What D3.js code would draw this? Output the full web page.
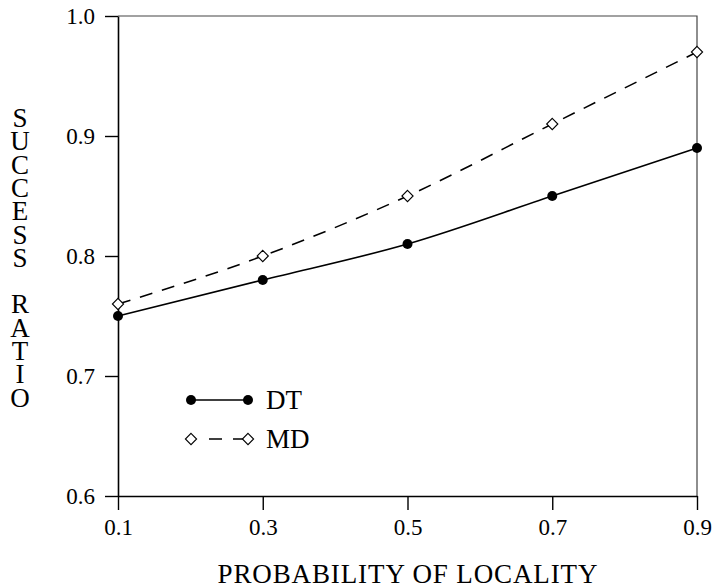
<!DOCTYPE html>
<html>
<head>
<meta charset="utf-8">
<script src="https://cdn.jsdelivr.net/npm/d3@7"></script>
<style>
  body { margin: 0; background: #fff; }
</style>
</head>
<body>
<script>
// values
const locality = [0.1, 0.3, 0.5, 0.7, 0.9];
const dtRatio = [0.75, 0.78, 0.81, 0.85, 0.89];
const mdRatio = [0.76, 0.80, 0.85, 0.91, 0.97];
const xTicks = [0.1, 0.3, 0.5, 0.7, 0.9];
const yTicks = [0.6, 0.7, 0.8, 0.9, 1.0];
const yTitle = ["S", "U", "C", "C", "E", "S", "S", "", "R", "A", "T", "I", "O"];

const width = 716, height = 588;
const margin = { top: 16, right: 19, bottom: 92, left: 118 };
const serif = "'Liberation Serif'";

const svg = d3.select("body").append("svg")
    .attr("width", width)
    .attr("height", height);

const x = d3.scaleLinear().domain([0.1, 0.9]).range([margin.left, width - margin.right]);
const y = d3.scaleLinear().domain([0.6, 1.0]).range([height - margin.bottom, margin.top]);

// top and right frame, thin grey
svg.append("path")
    .attr("d", `M${x(0.1)},${y(1.0)}H${x(0.9)}V${y(0.6)}`)
    .attr("fill", "none")
    .attr("stroke", "#444")
    .attr("stroke-width", 1.2);

const yAxis = svg.append("g")
    .attr("transform", `translate(${margin.left},0)`)
    .call(d3.axisLeft(y).tickValues(yTicks).tickFormat(d3.format(".1f")).tickSize(13).tickPadding(10).tickSizeOuter(0));

const xAxis = svg.append("g")
    .attr("transform", `translate(0,${height - margin.bottom})`)
    .call(d3.axisBottom(x).tickValues(xTicks).tickFormat(d3.format(".1f")).tickSize(14).tickPadding(9).tickSizeOuter(0));

[yAxis, xAxis].forEach(g => {
    g.select(".domain").attr("stroke", "#000").attr("stroke-width", 1.6);
    g.selectAll(".tick line").attr("stroke", "#000").attr("stroke-width", 1.4);
    g.selectAll(".tick text")
        .style("font-family", serif)
        .style("font-size", "23px")
        .attr("fill", "#000");
});

// axis titles
svg.append("text")
    .attr("x", (x(0.1) + x(0.9)) / 2)
    .attr("y", 583)
    .attr("text-anchor", "middle")
    .style("font-family", serif)
    .style("font-size", "27px")
    .attr("textLength", 380)
    .text("PROBABILITY OF LOCALITY");

const yt = svg.append("text")
    .attr("text-anchor", "middle")
    .style("font-family", serif)
    .style("font-size", "27px");
yTitle.forEach((ch, i) => {
    yt.append("tspan")
        .attr("x", 20)
        .attr("y", 127 + i * 23.3)
        .text(ch === "" ? "\u00a0" : ch);
});

const line = d3.line()
    .x((d, i) => x(locality[i]))
    .y(d => y(d))
    .curve(d3.curveMonotoneX);

// DT series
svg.append("path")
    .datum(dtRatio)
    .attr("d", line)
    .attr("fill", "none")
    .attr("stroke", "#000")
    .attr("stroke-width", 1.6);

// MD series
svg.append("path")
    .datum(mdRatio)
    .attr("d", line)
    .attr("fill", "none")
    .attr("stroke", "#000")
    .attr("stroke-width", 1.6)
    .attr("stroke-dasharray", "13,10");

svg.selectAll(".dot")
    .data(dtRatio)
    .enter().append("circle")
    .attr("cx", (d, i) => x(locality[i]))
    .attr("cy", d => y(d))
    .attr("r", 5)
    .attr("fill", "#000");

const diamond = d3.symbol().type(d3.symbolDiamond2).size(80);

svg.selectAll(".diamond")
    .data(mdRatio)
    .enter().append("path")
    .attr("d", diamond)
    .attr("transform", (d, i) => `translate(${x(locality[i])},${y(d)})`)
    .attr("fill", "#fff")
    .attr("stroke", "#000")
    .attr("stroke-width", 1.1);

// legend
const leg = svg.append("g");
const lx0 = 191, lx1 = 248;

leg.append("line")
    .attr("x1", lx0).attr("x2", lx1).attr("y1", 400).attr("y2", 400)
    .attr("stroke", "#000").attr("stroke-width", 1.6);
[lx0, lx1].forEach(px => {
    leg.append("circle").attr("cx", px).attr("cy", 400).attr("r", 5).attr("fill", "#000");
});
leg.append("text").attr("x", 266).attr("y", 409)
    .style("font-family", serif).style("font-size", "27px").text("DT");

leg.append("line")
    .attr("x1", lx0 + 9).attr("x2", lx1 - 2).attr("y1", 439).attr("y2", 439)
    .attr("stroke", "#000").attr("stroke-width", 1.6)
    .attr("stroke-dasharray", "0,9,13,11,13");
[lx0, lx1].forEach(px => {
    leg.append("path")
        .attr("d", diamond)
        .attr("transform", `translate(${px},439)`)
        .attr("fill", "#fff").attr("stroke", "#000").attr("stroke-width", 1.1);
});
leg.append("text").attr("x", 266).attr("y", 448)
    .style("font-family", serif).style("font-size", "27px").text("MD");
</script>
</body>
</html>
